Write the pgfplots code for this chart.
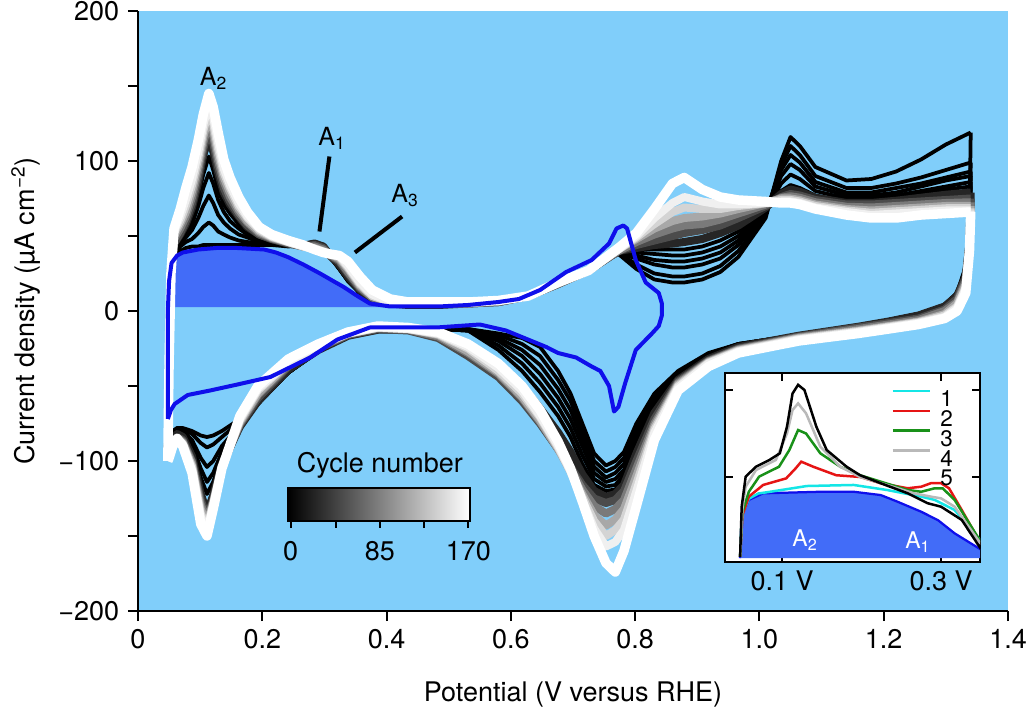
\documentclass[border=0pt]{standalone}
\usepackage{fontspec}
\setmainfont{TeX Gyre Heros}
\usepackage{pgfplots}
\usepackage{pgfplotstable}
\pgfplotsset{compat=1.18}
\definecolor{bgblue}{RGB}{128,206,250}
\definecolor{cvblue}{RGB}{15,15,235}
\definecolor{fillblue}{RGB}{66,108,248}
\definecolor{cyc1}{RGB}{20,230,230}
\definecolor{cyc2}{RGB}{230,20,20}
\definecolor{cyc3}{RGB}{25,145,25}
\definecolor{cyc4}{RGB}{185,185,185}
\pgfplotsset{
  cvb/.style={black, line width=1.5pt, line join=round},
  cvg/.style={line width=3.2pt, line join=round},
}

% anodic sweep: b1-b6 early cycles (black), g1-g6 later (grey), w last (white)
\pgfplotstableread{
x b1 b2 b3 b4 b5 b6 g1 g2 g3 g4 g5 g6 w
0.048 -86 -88 -90 -92 -94 -96 -97 -98 -98 -99 -99 -100 -100
0.050 -30 -30 -30 -30 -30 -30 -32 -35 -35 -35 -35 -35 -35
0.053 20 22 24 26 28 30 28 25 25 25 25 25 25
0.058 35 38 40 42 44 45 45 45 48 50 52 53 55
0.068 40 43 45 47 49 50 51 52 55 58 60 63 68
0.077 42 46 49 51 54 56 58 60 63 66 70 74 82
0.087 43 48 54 58 62 66 69 72 76 80 84 88 96
0.097 43 52 62 70 77 82 86 90 94 98 102 106 114
0.105 44 56 70 82 91 99 104 108 112 116 120 124 131
0.114 44 59 77 92 103 112 117 122 126 130 134 138 145
0.121 44 57 72 85 94 102 107 112 117 121 125 129 136
0.129 44 53 64 74 81 87 92 96 100 104 108 112 119
0.138 44 51 59 66 71 76 79 82 86 89 92 95 101
0.148 44 49 55 60 65 69 71 73 76 79 82 84 89
0.162 44 47 51 55 58 61 63 64 66 68 70 72 76
0.176 44 46 49 51 53 55 56 57 59 60 62 63 66
0.195 44 45 46 47 49 51 51 51 52 53 54 55 56
0.215 44 44.5 45 45.5 47 48 48 48 48.5 49 49.5 50 51
0.242 43 44 44 44 45 45 45 45 45.5 46 46 46 47
0.266 44 44 44 44 44 44 43.5 43 43 43 43 43 44
0.284 46 46 46 46 46 46 45 44 43 42 41.5 41 41
0.298 44 44 44 44 44 44 43 42 41 40 39.5 39 39
0.309 36 36 36 37 37 37 37 37 37.5 38 38 38 38
0.324 28 28 28 29 29 30 31 33 34 35 36 37 37
0.338 20 20 20 21 21 22 23 25 26 28 29 30 33
0.357 12 12 12 12 13 13 14 15 16 17 18 19 23
0.377 7 7 7 7 8 8 8 9 9 10 10 11 14
0.406 4 4 4 4 4 5 5 5 5 6 6 6 8
0.435 4 4 4 4 4 4 4 5 5 5 5 6 6
0.483 4 4 4 4 4 4 4 5 5 5 5 6 6
0.531 4 4 4 4 4 5 5 5 5 5 6 6 6
0.580 6 6 6 6 6 6 6 6 6 7 7 7 7
0.628 9 9 9 9 10 10 10 10 10 10 10 10 10
0.676 17 17 18 18 18 18 18 18 18 19 19 19 19
0.725 27 27 27 27 27 27 27 27 27 27 27 27 27
0.773 38 39 39 40 40 40 40 40 40 41 41 41 42
0.802 28 31 35 37 39 41 42 44 46 48 49 50 52
0.831 21 25 31 34 38 41 44 47 51 55 58 62 68
0.860 19 23 29 33 37 41 45 50 55 60 66 72 85
0.879 19 23 29 33 37 41 46 52 57 62 69 76 89
0.908 21 25 31 35 39 43 48 54 58 63 68 73 81
0.937 26 30 35 39 43 47 52 57 61 65 68 71 76
0.966 36 40 44 47 50 53 57 62 65 68 70 71 74
1.010 62 64 66 67 67 68 69 70 71 72 72 72 73
1.035 100 97 94 90 85 80 78 76 75.5 75 74 73 72
1.050 116 110 104 98 91 84 81 78 76.5 75 74 73 72
1.065 110 104 99 94 88 82 79.5 77 75.5 74 73 72 71
1.090 96 90 86 83 80 77 75.5 74 72.5 71 70 69 68
1.140 87 82 79 77 75 73 72 71 69.5 68 67 66 64
1.180 88 82 79 77 75 73 72 71 69 67 65.5 64 62
1.220 93 85 82 79 77 75 73.5 72 70 68 66.5 65 62
1.260 101 89 85 83 80 78 75.5 73 71 69 67.5 66 64
1.300 111 94 89 87 83 81 77.5 74 72 70 68.5 67 65
1.340 119 99 93 90 86 83 79 75 72.5 70 68.5 67 66
}\anod

% cathodic sweep
\pgfplotstableread{
x b1 b2 b3 b4 b5 b6 g1 g2 g3 g4 g5 g6 w
1.340 119 99 93 90 86 83 79 75 72.5 70 68.5 67 66
1.338 60 55 52 50 48 46 45 45 43 42 41 40 40
1.332 30 28 27 26 25 24 23 22 20 18 16 15 12
1.318 12 12 12 12 11 11 10 8 6 5 3 2 0
1.298 4 4 4 4 4 4 3 1 0 -2 -3 -4 -5
1.256 -2 -2 -2 -2 -2 -2 -3 -5 -6 -7 -7.5 -8 -9
1.208 -6 -6 -6 -6 -6 -6 -7 -8 -9 -10 -10.5 -11 -12
1.159 -10 -10 -10 -10 -10 -10 -10.5 -11 -12 -13 -13.5 -14 -15
1.063 -16 -16 -16 -16 -16 -16 -16.5 -17 -17.5 -18 -18.5 -19 -20
0.966 -22 -22 -22 -23 -23 -23 -24 -25 -25.5 -26 -26.5 -27 -28
0.918 -28 -29 -29 -30 -30 -31 -32 -33 -33.5 -34 -34.5 -35 -37
0.869 -40 -41 -42 -43 -44 -45 -46 -47 -48 -49 -50 -51 -53
0.831 -55 -57 -59 -61 -63 -65 -68 -72 -75 -77 -79 -81 -86
0.802 -75 -78 -81 -84 -87 -90 -95 -100 -105 -110 -115 -120 -130
0.782 -94 -98 -102 -106 -109 -112 -116 -120 -126 -132 -139 -146 -160
0.768 -100 -104 -108 -112 -116 -119 -122 -126 -132 -139 -146 -154 -174
0.753 -103 -107 -111 -114 -117 -120 -124 -128 -135 -143 -150 -157 -168
0.734 -95 -100 -104 -108 -112 -116 -120 -125 -130 -136 -140 -145 -150
0.715 -75 -80 -85 -90 -96 -102 -109 -116 -119 -122 -124 -126 -127
0.696 -55 -60 -66 -72 -78 -84 -94 -104 -105 -107 -107 -107 -105
0.676 -40 -46 -52 -58 -64 -70 -81 -92 -92 -92 -91 -90 -87
0.647 -24 -30 -36 -42 -48 -54 -65 -75 -74 -73 -71 -70 -66
0.618 -18 -22 -26 -30 -35 -40 -50 -60 -58 -57 -55 -53 -50
0.580 -15 -16 -18 -20 -23 -26 -35 -44 -42 -41 -40 -38 -35
0.531 -12 -12 -13 -13 -13 -13 -22 -30 -28 -27 -25 -24 -22
0.483 -12 -12 -12 -12 -12 -12 -15 -18 -17 -16 -15.5 -15 -14
0.435 -12 -12 -12 -12 -12 -12 -12.5 -13 -12.5 -12 -12 -12 -11
0.386 -13 -13 -13 -13 -13 -13 -12.5 -12 -11.5 -11 -11 -11 -10
0.338 -17 -17 -17 -17 -17 -17 -16.5 -16 -15.5 -15 -15 -15 -14
0.290 -27 -27 -27 -27 -27 -27 -26 -25 -24.5 -24 -23.5 -23 -22
0.242 -41 -41 -41 -41 -41 -41 -39 -37 -36 -35 -34.5 -34 -32
0.193 -60 -61 -62 -62 -62 -61 -60 -58 -56 -55 -53 -52 -50
0.164 -72 -74 -76 -77 -78 -78 -77 -76 -75 -74 -73 -72 -70
0.135 -80 -84 -90 -94 -97 -100 -102 -103 -103.5 -104 -104.5 -105 -105
0.121 -83 -89 -100 -108 -114 -120 -123 -126 -127 -128 -129 -130 -132
0.111 -84 -91 -104 -114 -122 -131 -135 -138 -140 -142 -144 -146 -150
0.101 -83 -88 -98 -105 -111 -118 -122 -126 -129 -132 -135 -137 -142
0.087 -80 -82 -86 -89 -92 -95 -97 -100 -101 -103 -104 -106 -108
0.072 -78 -79 -80 -81 -82 -83 -84 -86 -87 -88 -88.5 -89 -90
0.063 -78 -78 -79 -79 -80 -80 -82 -84 -84.5 -85 -85 -85 -85
0.056 -80 -81 -82 -83 -84 -85 -86 -88 -88.5 -89 -89.5 -90 -90
0.050 -84 -86 -88 -90 -92 -94 -94.5 -95 -96 -97 -97.5 -98 -98
0.048 -86 -88 -90 -92 -94 -96 -97 -98 -98 -99 -99 -100 -100
}\cath

\begin{document}
\begin{tikzpicture}[font=\fontsize{10.8}{13}\selectfont]
\begin{axis}[
  scale only axis, width=348pt, height=240pt,
  xmin=0, xmax=1.4, ymin=-200, ymax=200,
  axis x line*=bottom, axis y line*=left,
  axis background/.style={fill=bgblue},
  xtick={0,0.2,0.4,0.6,0.8,1.0,1.2,1.4},
  xticklabels={0,0.2,0.4,0.6,0.8,1.0,1.2,1.4},
  ytick={-200,-100,0,100,200},
  yticklabels={−200,−100,0,100,200},
  minor ytick={-150,-50,50,150},
  tick align=outside, major tick length=4pt, minor tick length=4pt,
  tick style={black, line width=0.8pt},
  axis line style={line width=0.8pt},
  xlabel={Potential (V versus RHE)},
  ylabel={Current density (µA cm\textsuperscript{−2})},
  xlabel style={at={(axis description cs:0.5,-0.14)}, anchor=center},
  ylabel style={at={(axis description cs:-0.129,0.5)}, anchor=center},
]
% filled region under the blue anodic branch
\addplot[fill=fillblue, draw=none] coordinates {
(0.048,2.5) (0.048,20) (0.050,25) (0.054,32) (0.063,37) (0.072,39) (0.097,41)
(0.126,42) (0.160,42) (0.203,41) (0.222,39) (0.241,36) (0.266,31) (0.293,25)
(0.314,20) (0.331,16) (0.353,10) (0.373,5) (0.406,2.5)};

\pgfplotsinvokeforeach{b1,b2,b3,b4,b5,b6}{
  \addplot[cvb] table[x=x,y=#1]{\anod};
  \addplot[cvb] table[x=x,y=#1]{\cath};
}
\addplot[cvg, black!85] table[x=x,y=g1]{\anod};
\addplot[cvg, black!85] table[x=x,y=g1]{\cath};
\addplot[cvg, black!70] table[x=x,y=g2]{\anod};
\addplot[cvg, black!70] table[x=x,y=g2]{\cath};
\addplot[cvg, black!52] table[x=x,y=g3]{\anod};
\addplot[cvg, black!52] table[x=x,y=g3]{\cath};
\addplot[cvg, black!34] table[x=x,y=g4]{\anod};
\addplot[cvg, black!34] table[x=x,y=g4]{\cath};
\addplot[cvg, black!17] table[x=x,y=g5]{\anod};
\addplot[cvg, black!17] table[x=x,y=g5]{\cath};
\addplot[cvg, black!6] table[x=x,y=g6]{\anod};
\addplot[cvg, black!6] table[x=x,y=g6]{\cath};
\addplot[cvg, white, line width=3.8pt] table[x=x,y=w]{\anod};
\addplot[cvg, white, line width=3.8pt] table[x=x,y=w]{\cath};

% blue CV
\addplot[cvblue, line width=1.6pt, line join=round] coordinates {
(0.048,-72) (0.048,-40) (0.048,0) (0.050,20) (0.054,32) (0.063,37) (0.072,39)
(0.097,41) (0.126,42) (0.160,42) (0.203,41) (0.222,39) (0.241,36) (0.266,31)
(0.293,25) (0.314,20) (0.331,16) (0.353,10) (0.373,5) (0.406,3) (0.483,3)
(0.531,4) (0.580,6) (0.613,8) (0.647,14) (0.689,26) (0.730,34) (0.758,45)
(0.770,55) (0.781,57) (0.787,55) (0.801,34) (0.817,19) (0.838,12) (0.843,5)
(0.843,-3) (0.838,-10) (0.827,-15) (0.801,-26) (0.784,-48) (0.773,-64)
(0.766,-67) (0.758,-50) (0.744,-40) (0.730,-37) (0.705,-31) (0.676,-28)
(0.657,-24) (0.592,-13) (0.550,-9) (0.480,-11) (0.389,-11) (0.373,-11)
(0.321,-19) (0.277,-31) (0.213,-44) (0.160,-49) (0.116,-53) (0.080,-56)
(0.059,-62) (0.053,-66) (0.048,-72)};

% peak labels
\node[font=\fontsize{10}{12}\selectfont] at (axis cs:0.122,155) {A\textsubscript{2}};
\node[font=\fontsize{10}{12}\selectfont] at (axis cs:0.3125,115) {A\textsubscript{1}};
\node[font=\fontsize{10}{12}\selectfont] at (axis cs:0.43,77) {A\textsubscript{3}};
\draw[line width=1.6pt] (axis cs:0.308,103) -- (axis cs:0.292,53);
\draw[line width=1.6pt] (axis cs:0.425,63) -- (axis cs:0.349,39);

% colour bar
\shade[left color=black, right color=white] (axis cs:0.2419,-117.8) rectangle (axis cs:0.5343,-140);
\draw[line width=0.8pt] (axis cs:0.2419,-117.8) rectangle (axis cs:0.5343,-140);
\pgfplotsinvokeforeach{0.2457,0.3182,0.3894,0.4603,0.5315}{
  \draw[line width=0.8pt] (axis cs:#1,-140) -- (axis cs:#1,-144.5);
}
\node at (axis cs:0.3894,-103) {Cycle number};
\node at (axis cs:0.2457,-160) {0};
\node at (axis cs:0.3894,-160) {85};
\node at (axis cs:0.5315,-160) {170};
\end{axis}

% inset
\begin{axis}[
  at={(234.8pt,19.6pt)}, anchor=south west,
  scale only axis, width=102pt, height=75.6pt,
  xmin=0.028, xmax=0.349, ymin=1.1, ymax=109.8,
  axis background/.style={fill=white},
  xtick={0.1,0.3}, xticklabels={0.1 V,0.3 V},
  ytick={50,100}, yticklabels={},
  tick align=inside, major tick length=3.2pt,
  tick style={black, line width=0.8pt},
  axis line style={line width=0.8pt},
  legend style={draw=none, fill=none, at={(0.93,0.94)}, anchor=north east,
    font=\fontsize{9}{9}\selectfont, row sep=0.6pt,
    nodes={inner sep=0.5pt, text height=6.3pt, text depth=0pt},
    /tikz/every odd column/.append style={column sep=3pt}},
  legend cell align=left,
  legend image code/.code={\draw[#1] (0pt,3.1pt) -- (15pt,3.1pt);},
]
\addplot[fill=fillblue, draw=none, forget plot] coordinates {
(0.047,3.4) (0.047,4.2) (0.049,27) (0.058,36.8) (0.076,40.6) (0.148,41.5)
(0.19,41.5) (0.224,39.6) (0.245,35.8) (0.275,30) (0.296,25.2) (0.317,17.6)
(0.351,8) (0.351,3.4)};
\addplot[cvblue, line width=0.9pt, forget plot] coordinates {
(0.047,3.4) (0.047,4.2) (0.049,27) (0.058,36.8) (0.076,40.6) (0.148,41.5)
(0.19,41.5) (0.224,39.6) (0.245,35.8) (0.275,30) (0.296,25.2) (0.317,17.6)
(0.351,8)};
\addplot[cyc1, line width=1pt] coordinates {
(0.047,4) (0.049,27) (0.058,37.5) (0.07,40.5) (0.085,41.5) (0.131,44.8)
(0.19,45.4) (0.232,42.5) (0.275,38.7) (0.292,36.8) (0.317,31) (0.351,12.8)};
\addlegendentry{1}
\addplot[cyc2, line width=1pt] coordinates {
(0.047,4) (0.050,28) (0.058,38.7) (0.076,45.4) (0.105,49.2) (0.117,55)
(0.124,58.8) (0.139,55.9) (0.168,51) (0.198,50) (0.224,46.4) (0.258,43.5)
(0.275,44.4) (0.287,46.4) (0.3,46.4) (0.31,43.5) (0.326,31) (0.351,10.9)};
\addlegendentry{2}
\addplot[cyc3, line width=1pt] coordinates {
(0.047,4) (0.050,30) (0.058,41.5) (0.071,50.2) (0.096,55.9) (0.109,65.5)
(0.12,77) (0.13,75) (0.148,63.6) (0.173,55.9) (0.198,51) (0.224,47.3)
(0.258,42.5) (0.275,41.5) (0.292,43.5) (0.302,43.5) (0.317,36.8) (0.351,11.9)};
\addlegendentry{3}
\addplot[cyc4, line width=1pt] coordinates {
(0.047,4) (0.050,32) (0.054,44.4) (0.067,54) (0.092,59.8) (0.106,75)
(0.113,88.5) (0.12,92.3) (0.13,86.6) (0.148,67.4) (0.173,55.9) (0.198,50)
(0.232,45.4) (0.266,40.6) (0.287,38.7) (0.3,37.7) (0.317,32.9) (0.351,10.9)};
\addlegendentry{4}
\addplot[black, line width=1pt] coordinates {
(0.047,4) (0.049,33) (0.054,50.2) (0.067,55.9) (0.084,59.8) (0.097,63.6)
(0.106,78.9) (0.113,98) (0.12,103) (0.128,100) (0.143,78.9) (0.156,65.5)
(0.181,55.9) (0.198,51) (0.224,46.4) (0.258,40.6) (0.283,34.9) (0.3,32.9)
(0.326,25.3) (0.351,8)};
\addlegendentry{5}
\node[white, font=\fontsize{9.2}{11}\selectfont] at (axis cs:0.129,13.8) {A\textsubscript{2}};
\node[white, font=\fontsize{9.2}{11}\selectfont] at (axis cs:0.271,12.6) {A\textsubscript{1}};
\end{axis}
\pgfresetboundingbox
\path (-55.2pt,-38.8pt) rectangle (356pt,244.4pt);
\end{tikzpicture}
\end{document}
